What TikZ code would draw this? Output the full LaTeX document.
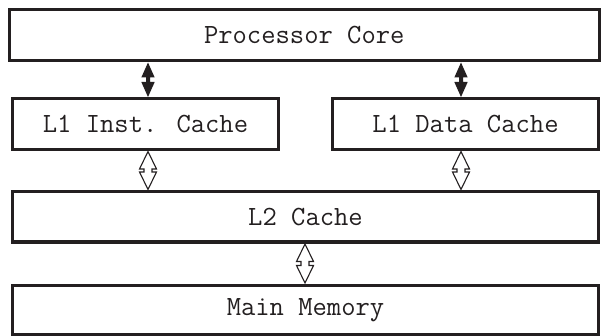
\documentclass[tikz,border=0pt]{standalone}
\usetikzlibrary{calc}
\definecolor{ink}{HTML}{231F20}
\tikzset{
  unitbox/.style={draw=ink, line width=3pt, rectangle, inner sep=0pt,
    font=\ttfamily\fontsize{27.8}{29}\selectfont, text=ink},
  solidlink/.style={fill=ink, draw=none},
  hollowlink/.style={draw=ink, line width=1.1pt, fill=none, line join=miter},
}
% Two-headed vertical arrow outline: #1 style, #2 upper tip, #3 lower tip,
% #4 head length, #5 head half width, #6 shaft half width
\newcommand\twowayarrow[6]{%
  \path[#1] let \p1=#2, \p2=#3 in
    (\x1,\y1) -- (\x1+#5,\y1-#4) -- (\x1+#6,\y1-#4) -- (\x1+#6,\y2+#4)
    -- (\x1+#5,\y2+#4) -- (\x1,\y2) -- (\x1-#5,\y2+#4) -- (\x1-#6,\y2+#4)
    -- (\x1-#6,\y1-#4) -- (\x1-#5,\y1-#4) -- cycle;}
\begin{document}
\begin{tikzpicture}[x=1pt,y=1pt]
  \useasboundingbox (0,0) rectangle (601,-336);

  \node[unitbox, minimum width=590.5pt, minimum height=51pt] (core) at (304.25,-35.5) {Processor Core};
  \node[unitbox, minimum width=266pt, minimum height=51pt] (l1i) at (145.5,-124) {L1 Inst. Cache};
  \node[unitbox, minimum width=266pt, minimum height=51pt] (l1d) at (465.5,-124) {L1 Data Cache};
  \node[unitbox, minimum width=586pt, minimum height=50.5pt] (l2) at (305.5,-216.75) {L2 Cache};
  \node[unitbox, minimum width=586pt, minimum height=49.5pt] (mem) at (305.5,-309.75) {Main Memory};

  % arrow axes
  \coordinate (ax1) at (148,0);
  \coordinate (ax2) at (461,0);
  \coordinate (ax3) at (305,0);

  % core <-> L1 caches
  \twowayarrow{solidlink}{(core.south -| ax1)}{(l1i.north -| ax1)}{15pt}{6.7pt}{2pt}
  \twowayarrow{solidlink}{(core.south -| ax2)}{(l1d.north -| ax2)}{15pt}{6.7pt}{2pt}

  % L1 caches <-> L2
  \twowayarrow{hollowlink}{($(l1i.south -| ax1)+(0,-0.5)$)}{($(l2.north -| ax1)+(0,0.5)$)}{17.5pt}{8.5pt}{4pt}
  \twowayarrow{hollowlink}{($(l1d.south -| ax2)+(0,-0.5)$)}{($(l2.north -| ax2)+(0,0.5)$)}{17.5pt}{8.5pt}{4pt}

  % L2 <-> main memory
  \twowayarrow{hollowlink}{($(l2.south -| ax3)+(0,-0.5)$)}{($(mem.north -| ax3)+(0,0.5)$)}{17.5pt}{8.5pt}{4pt}
\end{tikzpicture}
\end{document}
